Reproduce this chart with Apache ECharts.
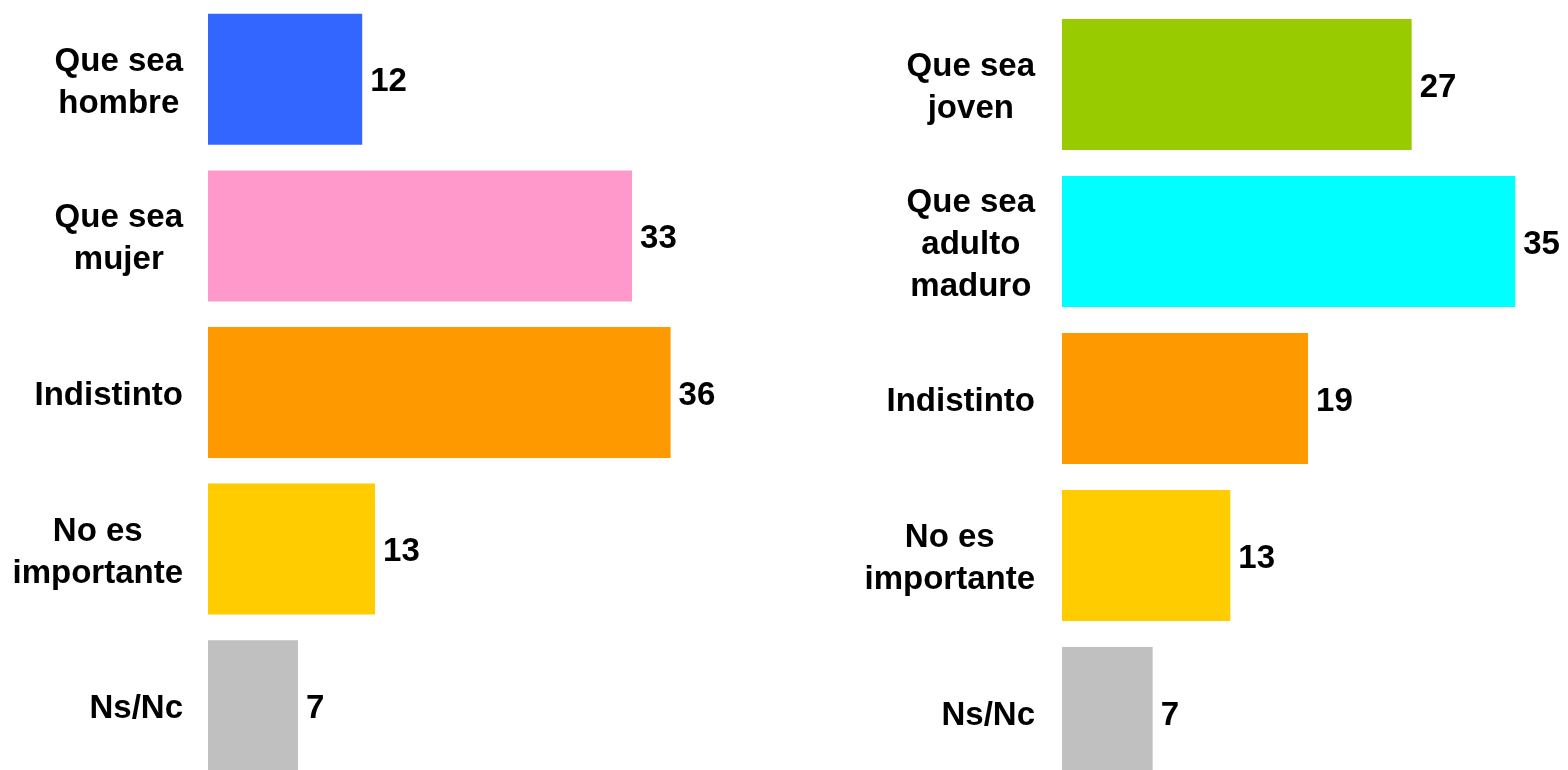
<!DOCTYPE html>
<html>
<head>
<meta charset="utf-8">
<script src="https://cdn.jsdelivr.net/npm/echarts@6/dist/echarts.min.js"></script>
<style>
html,body{margin:0;padding:0;background:#fff;}
#chart{width:1568px;height:770px;}
</style>
</head>
<body>
<div id="chart"></div>
<script>
// Data
var leftCategories = ['Que sea\nhombre', 'Que sea\nmujer', 'Indistinto', 'No es\nimportante', 'Ns/Nc'];
var leftValues = [12, 33, 36, 13, 7];
var rightCategories = ['Que sea\njoven', 'Que sea\nadulto\nmaduro', 'Indistinto', 'No es\nimportante', 'Ns/Nc'];
var rightValues = [27, 35, 19, 13, 7];

// Styles
var leftColors = ['#3366FF', '#FF99CC', '#FF9900', '#FFCC00', '#C0C0C0'];
var rightColors = ['#99CC00', '#00FFFF', '#FF9900', '#FFCC00', '#C0C0C0'];
var FONT = "'Liberation Sans', Arial, sans-serif";

function catLabel(margin) {
  return {
    margin: margin,
    align: 'right',
    padding: [7, 0, 0, 0],
    formatter: function (v) {
      return v.split('\n').map(function (l) { return '{c|' + l + '}'; }).join('\n');
    },
    rich: {
      c: { fontSize: 33, fontWeight: 'bold', fontFamily: FONT, color: '#000', lineHeight: 42, align: 'center' }
    }
  };
}

function colored(values, colors) {
  return values.map(function (v, i) { return { value: v, itemStyle: { color: colors[i] } }; });
}

var valLabel = { show: true, position: 'right', distance: 8, offset: [0, 3], fontSize: 33, fontWeight: 'bold', fontFamily: FONT, color: '#000' };

var chart = echarts.init(document.getElementById('chart'));
chart.setOption({
  animation: false,
  backgroundColor: '#fff',
  grid: [
    { left: 208, top: 1, width: 514, height: 783, containLabel: false, outerBoundsMode: 'none' },
    { left: 1062, top: 6, width: 518, height: 785, containLabel: false, outerBoundsMode: 'none' }
  ],
  xAxis: [
    { type: 'value', gridIndex: 0, min: 0, max: 40, show: false },
    { type: 'value', gridIndex: 1, min: 0, max: 40, show: false }
  ],
  yAxis: [
    { type: 'category', gridIndex: 0, inverse: true, data: leftCategories,
      axisLine: { show: false }, axisTick: { show: false }, splitLine: { show: false },
      axisLabel: catLabel(25) },
    { type: 'category', gridIndex: 1, inverse: true, data: rightCategories,
      axisLine: { show: false }, axisTick: { show: false }, splitLine: { show: false },
      axisLabel: catLabel(27) }
  ],
  series: [
    { type: 'bar', xAxisIndex: 0, yAxisIndex: 0, barWidth: 131, data: colored(leftValues, leftColors), label: valLabel },
    { type: 'bar', xAxisIndex: 1, yAxisIndex: 1, barWidth: 131, data: colored(rightValues, rightColors), label: valLabel }
  ]
});
</script>
</body>
</html>
